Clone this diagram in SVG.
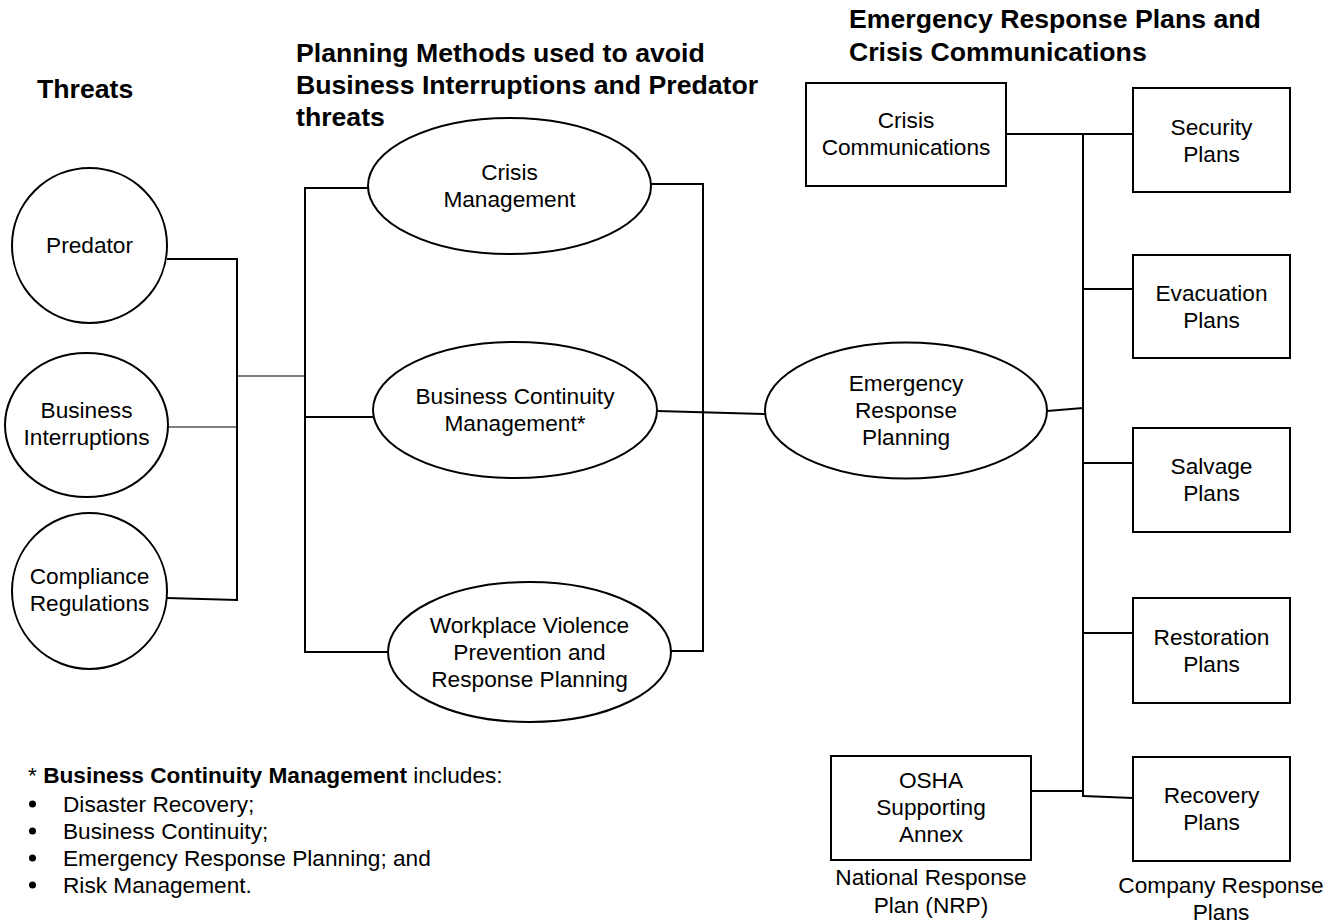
<svg xmlns="http://www.w3.org/2000/svg" width="1336" height="923" viewBox="0 0 1336 923">
<style>
.t{font-family:"Liberation Sans",Arial,sans-serif;font-size:22.67px;fill:#000;text-anchor:middle}
.h{font-family:"Liberation Sans",Arial,sans-serif;font-size:26.67px;font-weight:bold;fill:#000}
.n{fill:#fff;stroke:#000;stroke-width:2}
.c{fill:none;stroke:#000;stroke-width:2}
.c1{fill:none;stroke:#000;stroke-width:1.2}
.l{font-family:"Liberation Sans",Arial,sans-serif;font-size:22.67px;fill:#000}
</style>
<rect width="1336" height="923" fill="#fff"/>
<g id="titles">
<text class="h" x="37" y="98">Threats</text>
<text class="h" x="296" y="62">Planning Methods used to avoid</text>
<text class="h" x="296" y="94">Business Interruptions and Predator</text>
<text class="h" x="296" y="126">threats</text>
<text class="h" x="849" y="28">Emergency Response Plans and</text>
<text class="h" x="849" y="61">Crisis Communications</text>
</g>
<g id="connectors">
<polyline class="c" points="167,259 237,259 237,600 167,598"/>
<line class="c1" x1="168" y1="427" x2="237" y2="427"/>
<line class="c1" x1="237" y1="376" x2="305" y2="376"/>
<polyline class="c" points="368,188 305,188 305,652 388,652"/>
<line class="c" x1="305" y1="417" x2="374" y2="417"/>
<polyline class="c" points="651,184 703,184 703,651 671,651"/>
<line class="c" x1="657" y1="411" x2="765" y2="414"/>
<line class="c" x1="1047" y1="411" x2="1083" y2="408"/>
<line class="c" x1="1006" y1="134" x2="1133" y2="134"/>
<line class="c" x1="1083" y1="134" x2="1083" y2="797"/>
<line class="c" x1="1083" y1="289" x2="1133" y2="289"/>
<line class="c" x1="1083" y1="463" x2="1133" y2="463"/>
<line class="c" x1="1083" y1="633" x2="1133" y2="633"/>
<line class="c" x1="1031" y1="791" x2="1083" y2="791"/>
<line class="c" x1="1083" y1="796" x2="1133" y2="798"/>
</g>
<g id="predator">
<ellipse class="n" cx="89.5" cy="245.5" rx="77.5" ry="77.5"/>
<text class="t" x="89.5" y="253">Predator</text>
</g>
<g id="business-interruptions">
<ellipse class="n" cx="86.5" cy="425" rx="81.5" ry="72"/>
<text class="t" x="86.5" y="418">Business</text>
<text class="t" x="86.5" y="445">Interruptions</text>
</g>
<g id="compliance-regulations">
<ellipse class="n" cx="89.5" cy="591" rx="77.5" ry="78"/>
<text class="t" x="89.5" y="584">Compliance</text>
<text class="t" x="89.5" y="611">Regulations</text>
</g>
<g id="crisis-management">
<ellipse class="n" cx="509.5" cy="186" rx="141.5" ry="68"/>
<text class="t" x="509.5" y="180">Crisis</text>
<text class="t" x="509.5" y="207">Management</text>
</g>
<g id="business-continuity-management">
<ellipse class="n" cx="515" cy="410" rx="142" ry="68"/>
<text class="t" x="515" y="404">Business Continuity</text>
<text class="t" x="515" y="431">Management*</text>
</g>
<g id="workplace-violence">
<ellipse class="n" cx="529.5" cy="652" rx="141.5" ry="70"/>
<text class="t" x="529.5" y="633">Workplace Violence</text>
<text class="t" x="529.5" y="660">Prevention and</text>
<text class="t" x="529.5" y="687">Response Planning</text>
</g>
<g id="emergency-response-planning">
<ellipse class="n" cx="906" cy="410.5" rx="141" ry="68"/>
<text class="t" x="906" y="391">Emergency</text>
<text class="t" x="906" y="418">Response</text>
<text class="t" x="906" y="445">Planning</text>
</g>
<g id="crisis-communications">
<rect class="n" x="806" y="83" width="200" height="103"/>
<text class="t" x="906" y="128">Crisis</text>
<text class="t" x="906" y="155">Communications</text>
</g>
<g id="security-plans">
<rect class="n" x="1133" y="88" width="157" height="104"/>
<text class="t" x="1211.5" y="135">Security</text>
<text class="t" x="1211.5" y="162">Plans</text>
</g>
<g id="evacuation-plans">
<rect class="n" x="1133" y="255" width="157" height="103"/>
<text class="t" x="1211.5" y="301">Evacuation</text>
<text class="t" x="1211.5" y="328">Plans</text>
</g>
<g id="salvage-plans">
<rect class="n" x="1133" y="428" width="157" height="104"/>
<text class="t" x="1211.5" y="474">Salvage</text>
<text class="t" x="1211.5" y="501">Plans</text>
</g>
<g id="restoration-plans">
<rect class="n" x="1133" y="598" width="157" height="105"/>
<text class="t" x="1211.5" y="645">Restoration</text>
<text class="t" x="1211.5" y="672">Plans</text>
</g>
<g id="recovery-plans">
<rect class="n" x="1133" y="757" width="157" height="104"/>
<text class="t" x="1211.5" y="803">Recovery</text>
<text class="t" x="1211.5" y="830">Plans</text>
</g>
<g id="osha-annex">
<rect class="n" x="831" y="756" width="200" height="104"/>
<text class="t" x="931" y="788">OSHA</text>
<text class="t" x="931" y="815">Supporting</text>
<text class="t" x="931" y="842">Annex</text>
</g>
<g id="captions">
<text class="t" x="931" y="885">National Response</text>
<text class="t" x="931" y="913">Plan (NRP)</text>
<text class="t" x="1221" y="893">Company Response</text>
<text class="t" x="1221" y="920">Plans</text>
</g>
<g id="footnote">
<text class="l" x="28" y="783">* <tspan font-weight="bold">Business Continuity Management</tspan> includes:</text>
<circle cx="32.5" cy="804" r="3.5" fill="#000"/>
<text class="l" x="63" y="812">Disaster Recovery;</text>
<circle cx="32.5" cy="831" r="3.5" fill="#000"/>
<text class="l" x="63" y="839">Business Continuity;</text>
<circle cx="32.5" cy="858" r="3.5" fill="#000"/>
<text class="l" x="63" y="866">Emergency Response Planning; and</text>
<circle cx="32.5" cy="885" r="3.5" fill="#000"/>
<text class="l" x="63" y="893">Risk Management.</text>
</g>
</svg>
